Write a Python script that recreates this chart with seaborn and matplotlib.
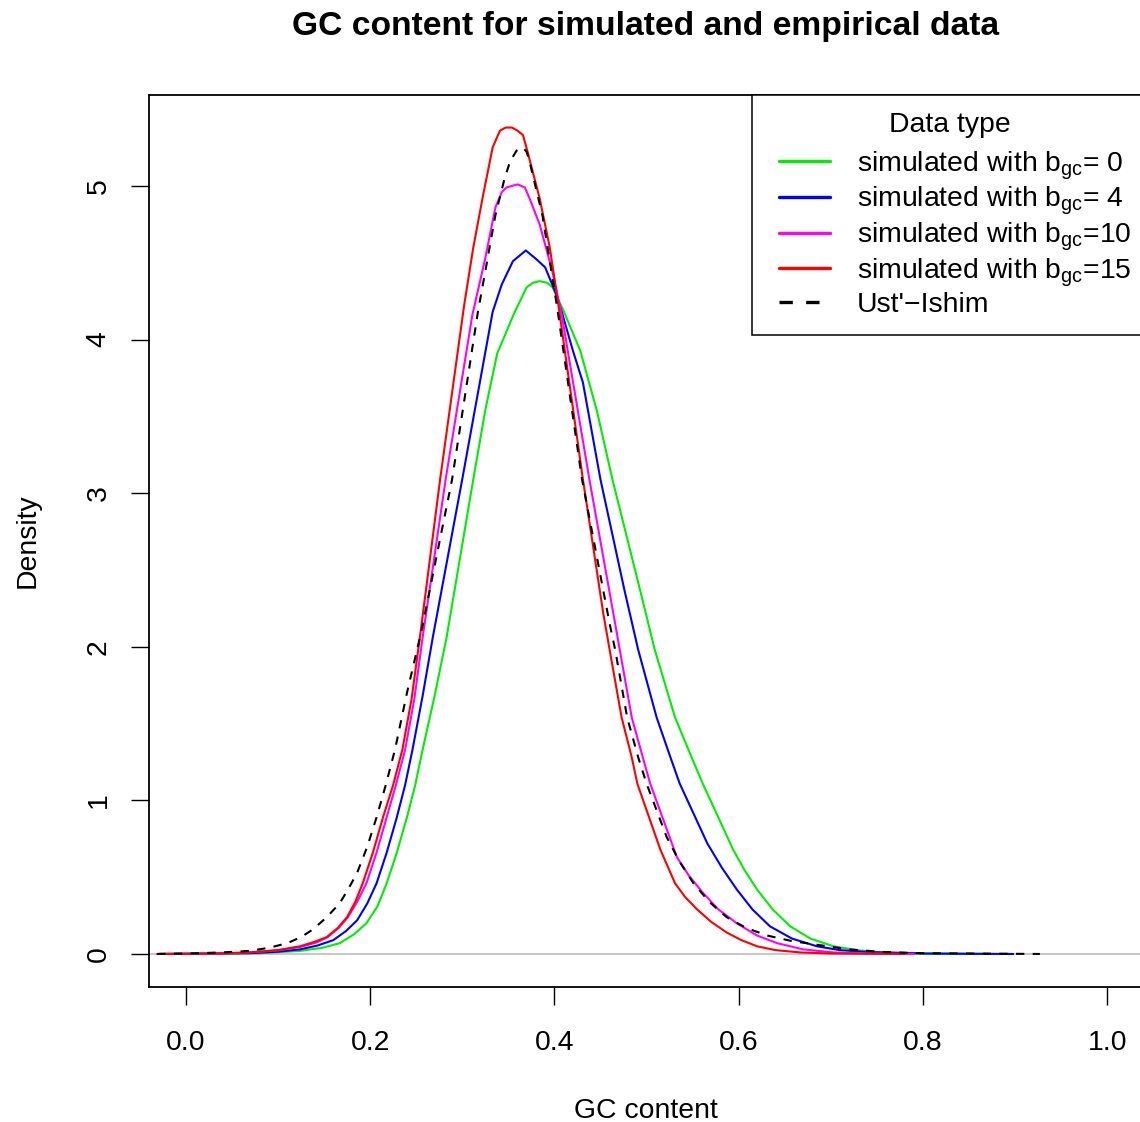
import numpy as np
import pandas as pd
import matplotlib
matplotlib.use("Agg")
import matplotlib.pyplot as plt
from matplotlib.legend_handler import HandlerLine2D
import seaborn as sns

# ---------------- data ----------------
legend_labels = [
    r"simulated with $\mathrm{b}_{\mathrm{gc}}$= 0",
    r"simulated with $\mathrm{b}_{\mathrm{gc}}$= 4",
    r"simulated with $\mathrm{b}_{\mathrm{gc}}$=10",
    r"simulated with $\mathrm{b}_{\mathrm{gc}}$=15",
    "Ust'\u2212Ishim",
]

gc_bgc0 = [-0.028, 0.080, 0.124, 0.148, 0.167, 0.183, 0.196, 0.208, 0.218, 0.229,
           0.240, 0.249, 0.257, 0.270, 0.283, 0.312, 0.325, 0.338, 0.357, 0.370,
           0.377, 0.384, 0.392, 0.398, 0.409, 0.428, 0.446, 0.463, 0.493, 0.509,
           0.531, 0.549, 0.561, 0.594, 0.607, 0.620, 0.637, 0.656, 0.678, 0.703,
           0.728, 0.757, 0.800, 0.870]
dens_bgc0 = [0.0, 0.005, 0.02, 0.04, 0.07, 0.13, 0.20, 0.31, 0.46, 0.66,
             0.89, 1.10, 1.33, 1.68, 2.06, 3.09, 3.54, 3.91, 4.18, 4.34,
             4.37, 4.38, 4.37, 4.34, 4.20, 3.93, 3.54, 3.09, 2.37, 1.98,
             1.54, 1.28, 1.11, 0.68, 0.54, 0.42, 0.29, 0.18, 0.10, 0.05,
             0.025, 0.01, 0.003, 0.0]

gc_bgc4 = [-0.028, 0.069, 0.100, 0.124, 0.143, 0.160, 0.174, 0.186, 0.197, 0.207,
           0.218, 0.229, 0.238, 0.246, 0.257, 0.268, 0.300, 0.333, 0.343, 0.355,
           0.363, 0.369, 0.373, 0.381, 0.390, 0.401, 0.408, 0.420, 0.431, 0.450,
           0.476, 0.491, 0.511, 0.526, 0.536, 0.566, 0.582, 0.598, 0.615, 0.634,
           0.658, 0.685, 0.710, 0.739, 0.800, 0.898]
dens_bgc4 = [0.0, 0.005, 0.015, 0.03, 0.055, 0.09, 0.15, 0.22, 0.33, 0.46,
             0.66, 0.89, 1.10, 1.33, 1.68, 2.06, 3.09, 4.18, 4.36, 4.51,
             4.55, 4.58, 4.56, 4.52, 4.47, 4.31, 4.18, 3.93, 3.72, 3.09,
             2.37, 1.98, 1.54, 1.28, 1.11, 0.72, 0.56, 0.42, 0.29, 0.18,
             0.10, 0.05, 0.025, 0.013, 0.003, 0.0]

gc_bgc10 = [-0.031, 0.030, 0.069, 0.100, 0.124, 0.142, 0.154, 0.166, 0.176, 0.186,
            0.196, 0.207, 0.218, 0.228, 0.238, 0.248, 0.257, 0.282, 0.311, 0.325,
            0.336, 0.343, 0.348, 0.360, 0.368, 0.373, 0.384, 0.398, 0.408, 0.438,
            0.466, 0.471, 0.484, 0.496, 0.504, 0.533, 0.546, 0.561, 0.578, 0.598,
            0.620, 0.642, 0.670, 0.703, 0.740, 0.790]
dens_bgc10 = [0.0, 0.002, 0.01, 0.024, 0.045, 0.075, 0.11, 0.17, 0.24, 0.34,
              0.46, 0.66, 0.89, 1.10, 1.33, 1.66, 2.06, 3.09, 4.16, 4.53,
              4.86, 4.96, 4.99, 5.01, 4.99, 4.92, 4.75, 4.44, 4.16, 3.09,
              2.15, 1.98, 1.54, 1.28, 1.11, 0.63, 0.51, 0.40, 0.29, 0.20,
              0.12, 0.07, 0.03, 0.01, 0.003, 0.0]

gc_bgc15 = [-0.031, 0.030, 0.069, 0.100, 0.124, 0.140, 0.153, 0.165, 0.175, 0.184,
            0.192, 0.203, 0.214, 0.225, 0.235, 0.245, 0.254, 0.276, 0.302, 0.312,
            0.322, 0.333, 0.338, 0.341, 0.347, 0.354, 0.360, 0.366, 0.371, 0.384,
            0.395, 0.404, 0.431, 0.453, 0.460, 0.473, 0.484, 0.490, 0.515, 0.523,
            0.531, 0.542, 0.555, 0.570, 0.587, 0.603, 0.620, 0.640, 0.667, 0.700,
            0.780]
dens_bgc15 = [0.0, 0.002, 0.01, 0.025, 0.05, 0.08, 0.11, 0.17, 0.24, 0.34,
              0.46, 0.66, 0.89, 1.10, 1.33, 1.66, 2.06, 3.09, 4.22, 4.60,
              4.92, 5.25, 5.32, 5.36, 5.38, 5.38, 5.36, 5.33, 5.22, 4.92,
              4.60, 4.24, 3.09, 2.22, 1.98, 1.54, 1.28, 1.11, 0.68, 0.57,
              0.46, 0.37, 0.29, 0.21, 0.14, 0.09, 0.05, 0.025, 0.01, 0.003,
              0.0]

gc_ust = [-0.031, 0.015, 0.045, 0.069, 0.090, 0.110, 0.125, 0.138, 0.153, 0.167,
          0.177, 0.186, 0.197, 0.207, 0.217, 0.227, 0.240, 0.256, 0.289, 0.317,
          0.327, 0.336, 0.346, 0.352, 0.359, 0.366, 0.370, 0.373, 0.387, 0.395,
          0.403, 0.430, 0.460, 0.466, 0.479, 0.491, 0.500, 0.522, 0.536, 0.551,
          0.568, 0.587, 0.608, 0.631, 0.657, 0.685, 0.720, 0.757, 0.800, 0.927]
dens_ust = [0.0, 0.005, 0.012, 0.02, 0.04, 0.07, 0.11, 0.16, 0.24, 0.33,
            0.43, 0.53, 0.70, 0.89, 1.10, 1.33, 1.70, 2.11, 3.09, 4.18,
            4.51, 4.81, 5.05, 5.16, 5.23, 5.25, 5.22, 5.16, 4.81, 4.51,
            4.21, 3.09, 2.15, 1.98, 1.54, 1.28, 1.11, 0.76, 0.60, 0.46,
            0.34, 0.24, 0.17, 0.12, 0.085, 0.06, 0.03, 0.013, 0.005, 0.0]

x_ticks = [0.0, 0.2, 0.4, 0.6, 0.8, 1.0]
x_tick_labels = ["0.0", "0.2", "0.4", "0.6", "0.8", "1.0"]
y_ticks = [0, 1, 2, 3, 4, 5]
y_tick_labels = ["0", "1", "2", "3", "4", "5"]
line_colors = ["#00ee00", "#0000ff", "#ff00ff", "#ff0000", "#000000"]

# ---------------- table ----------------
gcs = [gc_bgc0, gc_bgc4, gc_bgc10, gc_bgc15, gc_ust]
dens = [dens_bgc0, dens_bgc4, dens_bgc10, dens_bgc15, dens_ust]
frames = []
for lab, g, d in zip(legend_labels, gcs, dens):
    frames.append(pd.DataFrame({"gc": g, "density": d, "series": lab}))
df = pd.concat(frames, ignore_index=True)

palette = dict(zip(legend_labels, line_colors))
dashes = dict(zip(legend_labels, ["", "", "", "", (4, 4)]))

# ---------------- style ----------------
sns.set_style("ticks")
plt.rcParams['font.family'] = ['Liberation Sans', 'DejaVu Sans']
plt.rcParams['mathtext.fontset'] = 'custom'
plt.rcParams['mathtext.rm'] = 'Liberation Sans'
plt.rcParams['mathtext.it'] = 'Liberation Sans:italic'
plt.rcParams['mathtext.bf'] = 'Liberation Sans:bold'
plt.rcParams['text.color'] = 'black'
plt.rcParams['axes.labelcolor'] = 'black'
plt.rcParams['xtick.color'] = 'black'
plt.rcParams['ytick.color'] = 'black'

FS = 20.4
EM = FS * 100 / 72  # px per em

fig = plt.figure(figsize=(11.4, 11.22), dpi=100)
ax = fig.add_axes([149 / 1140, (1122 - 987) / 1122, 995 / 1140, 892 / 1122])

ax.axhline(0, color="#bebebe", lw=1.2, zorder=0)

sns.lineplot(data=df, x="gc", y="density", hue="series", style="series",
             hue_order=legend_labels, style_order=legend_labels,
             palette=palette, dashes=dashes, estimator=None, sort=False,
             lw=1.5, ax=ax)

ax.set_xlim(-0.04, 1.04)
ax.set_ylim(-0.215, 5.592)
ax.set_xticks(x_ticks)
ax.set_xticklabels(x_tick_labels)
ax.set_yticks(y_ticks)
ax.set_yticklabels(y_tick_labels, rotation=90, va="center")
ax.tick_params(axis="both", direction="out", length=13, width=1.0,
               labelsize=FS, color="black", labelcolor="black",
               bottom=True, left=True, top=False, right=False)
ax.tick_params(axis="x", pad=18)
ax.tick_params(axis="y", pad=14)
ax.set_xlabel("")
ax.set_ylabel("")
for s in ax.spines.values():
    s.set_visible(True)
    s.set_color("black")
    s.set_linewidth(1.3)

handles, labels = ax.get_legend_handles_labels()
if ax.get_legend() is not None:
    ax.get_legend().remove()
for h in handles:
    h.set_linewidth(2.4)
xpad_em = 10 / EM
hmap = {h: HandlerLine2D(xpad=xpad_em) for h in handles}
leg = ax.legend(handles, labels, title="Data type", loc="upper left",
                bbox_to_anchor=(0.606, 1.0), borderaxespad=0.0,
                fontsize=FS, title_fontsize=FS, frameon=True, fancybox=False,
                edgecolor="black", framealpha=1.0, handlelength=61 / EM,
                handletextpad=0.95, borderpad=0.6, labelspacing=0.12,
                handler_map=hmap)
leg.get_frame().set_linewidth(1.1)
leg.get_title().set_color("black")
leg._legend_box.sep = 8.2

fig.text(646 / 1140, 1 - 26 / 1122, "GC content for simulated and empirical data",
         ha="center", va="center", fontsize=24.2, fontweight="bold", color="black")
fig.text(646 / 1140, 1 - 1111 / 1122, "GC content", ha="center", va="center",
         fontsize=FS, color="black")
fig.text(28 / 1140, 1 - 541 / 1122, "Density", ha="center", va="center",
         rotation=90, fontsize=FS, color="black")

fig.savefig("out.png", dpi=100)
